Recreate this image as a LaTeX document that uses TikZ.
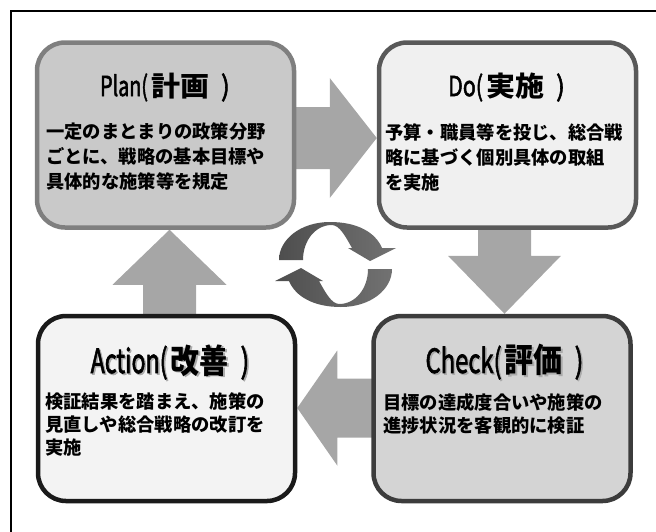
\documentclass[tikz,border=0pt]{standalone}
\usepackage{fontspec}
\setmainfont{Noto Sans CJK JP}
\newfontfamily\medfont{Noto Sans CJK JP}[FakeBold=2.2]
\usepackage{graphicx}
\usetikzlibrary{calc}
\definecolor{planfill}{HTML}{C9C9C9}
\definecolor{planline}{HTML}{7F7F7F}
\definecolor{dofill}{HTML}{F0F0F0}
\definecolor{doline}{HTML}{595959}
\definecolor{actfill}{HTML}{F3F3F3}
\definecolor{actline}{HTML}{1A1A1A}
\definecolor{chkfill}{HTML}{D4D4D4}
\definecolor{chkline}{HTML}{3C3C3C}
\definecolor{arrowgray}{HTML}{A6A6A6}
\definecolor{cycdark}{HTML}{4E4E4E}
\definecolor{cyclight}{HTML}{727272}
\definecolor{shadowgray}{HTML}{ABABAB}
% #1 latin part, #2 kanji, #3 x-scale of latin, #4 y-scale of the whole title
\newcommand\ttl[4]{\scalebox{1}[#4]{{\medfont\scalebox{#3}[1]{#1(}}\hspace{3pt}{\bfseries #2}\hspace{12pt}{\medfont\scalebox{0.9}[1]{)}}}}
\tikzset{
  box/.style={rounded corners=28pt, line width=4.5pt, minimum width=257pt, minimum height=185pt, inner sep=0pt},
  titlefont/.style={inner sep=0pt, font=\fontsize{29}{32}\selectfont},
  bodyA/.style={inner sep=0pt, anchor=west, align=left, font=\fontsize{18.3}{25}\selectfont\bfseries},
  bodyB/.style={inner sep=0pt, anchor=west, align=left, font=\fontsize{18.3}{23}\selectfont\bfseries},
  blockarrow/.style={fill=arrowgray}
}
\begin{document}
\begin{tikzpicture}[x=1pt,y=-1pt]
\useasboundingbox (0,0) rectangle (656,531);
% outer frame (right and bottom sides lie outside the picture)
\draw[line width=2.5pt] (11,11) rectangle (690,560);
% box nodes (drawn after the arrows, so the arrow tails lie beneath them)
\path (165.5,135) coordinate (planc) (507.5,135) coordinate (doc)
      (166.5,408.5) coordinate (actc) (502,408.5) coordinate (chkc);
\path[box] (planc) node[box] (plan) {} (doc) node[box] (do) {}
           (actc) node[box] (act) {} (chkc) node[box] (chk) {};
% block arrows: Plan -> Do -> Check -> Action -> Plan
\fill[blockarrow] (do.west |- 0,138) -- ++(-47,-60) -- ++(0,29) -- ++(-60,0) -- ++(0,62)
   -- ++(60,0) -- ++(0,29) -- cycle;
\fill[blockarrow] (504.5,0 |- chk.north) -- ++(-56.5,-58) -- ++(30,0) -- ++(0,-50) -- ++(53,0)
   -- ++(0,50) -- ++(30,0) -- cycle;
\fill[blockarrow] (act.east |- 0,408) -- ++(40,-57.5) -- ++(0,28) -- ++(55,0) -- ++(0,59)
   -- ++(-55,0) -- ++(0,28) -- cycle;
\fill[blockarrow] (169.5,0 |- plan.south) -- ++(-57,55) -- ++(30.5,0) -- ++(0,50) -- ++(53,0)
   -- ++(0,-50) -- ++(30.5,0) -- cycle;
% boxes
\node[box, fill=planfill, draw=planline] at (plan) {};
\node[box, fill=dofill, draw=doline] at (do) {};
\node[box, fill=actfill, draw=actline] at (act) {};
\node[box, fill=chkfill, draw=chkline] at (chk) {};
% titles
\node[titlefont] (plant) at (165,87) {\ttl{Plan}{計画}{0.68}{0.95}};
\node[titlefont] (dot) at (506.5,87) {\ttl{Do}{実施}{0.74}{0.95}};
\node[titlefont, text=shadowgray] (acts) at (171.5,363.5) {\ttl{Action}{改善}{0.8}{1.15}};
\node[titlefont] (actt) at (170,362) {\ttl{Action}{改善}{0.8}{1.15}};
\node[titlefont, text=shadowgray] (chks) at (506,363.5) {\ttl{Check}{評価}{0.82}{1.15}};
\node[titlefont] (chkt) at (504.5,362) {\ttl{Check}{評価}{0.82}{1.15}};
% bodies
\node[bodyA] (planb) at (46,157) {一定のまとまりの政策分野\\ごとに、戦略の基本目標や\\具体的な施策等を規定};
\node[bodyA] (dob) at (385,157) {予算・職員等を投じ、総合戦\\略に基づく個別具体の取組\\を実施};
\node[bodyB] (actb) at (45,424.5) {検証結果を踏まえ、施策の\\見直しや総合戦略の改訂を\\実施};
\node[bodyB] (chkb) at (383,413.5) {目標の達成度合いや施策の\\進捗状況を客観的に検証};
% cycle icon
\begin{scope}[shift={(335.5,264.5)}]
  \path[left color=cycdark, right color=cyclight]
    (-56.5,-4.5) -- (-32.5,-4.5)
    .. controls (-32.5,-24) and (-20,-39.5) .. (-3.8,-39.5)
    .. controls (4,-39.5) and (10,-28) .. (16.5,-16.5)
    -- (12.5,-16.5) -- (34.5,-3.5) -- (60.5,-16.5) -- (46.5,-16.5)
    .. controls (40,-32) and (22,-42.5) .. (-5.5,-42.5)
    .. controls (-35,-42.5) and (-56.5,-25) .. (-56.5,-4.5) -- cycle;
  \begin{scope}[rotate=180]
  \path[left color=cycdark, right color=cyclight]
    (-56.5,-4.5) -- (-32.5,-4.5)
    .. controls (-32.5,-24) and (-20,-39.5) .. (-3.8,-39.5)
    .. controls (4,-39.5) and (10,-28) .. (16.5,-16.5)
    -- (12.5,-16.5) -- (34.5,-3.5) -- (60.5,-16.5) -- (46.5,-16.5)
    .. controls (40,-32) and (22,-42.5) .. (-5.5,-42.5)
    .. controls (-35,-42.5) and (-56.5,-25) .. (-56.5,-4.5) -- cycle;
  \end{scope}
\end{scope}
\end{tikzpicture}
\end{document}
